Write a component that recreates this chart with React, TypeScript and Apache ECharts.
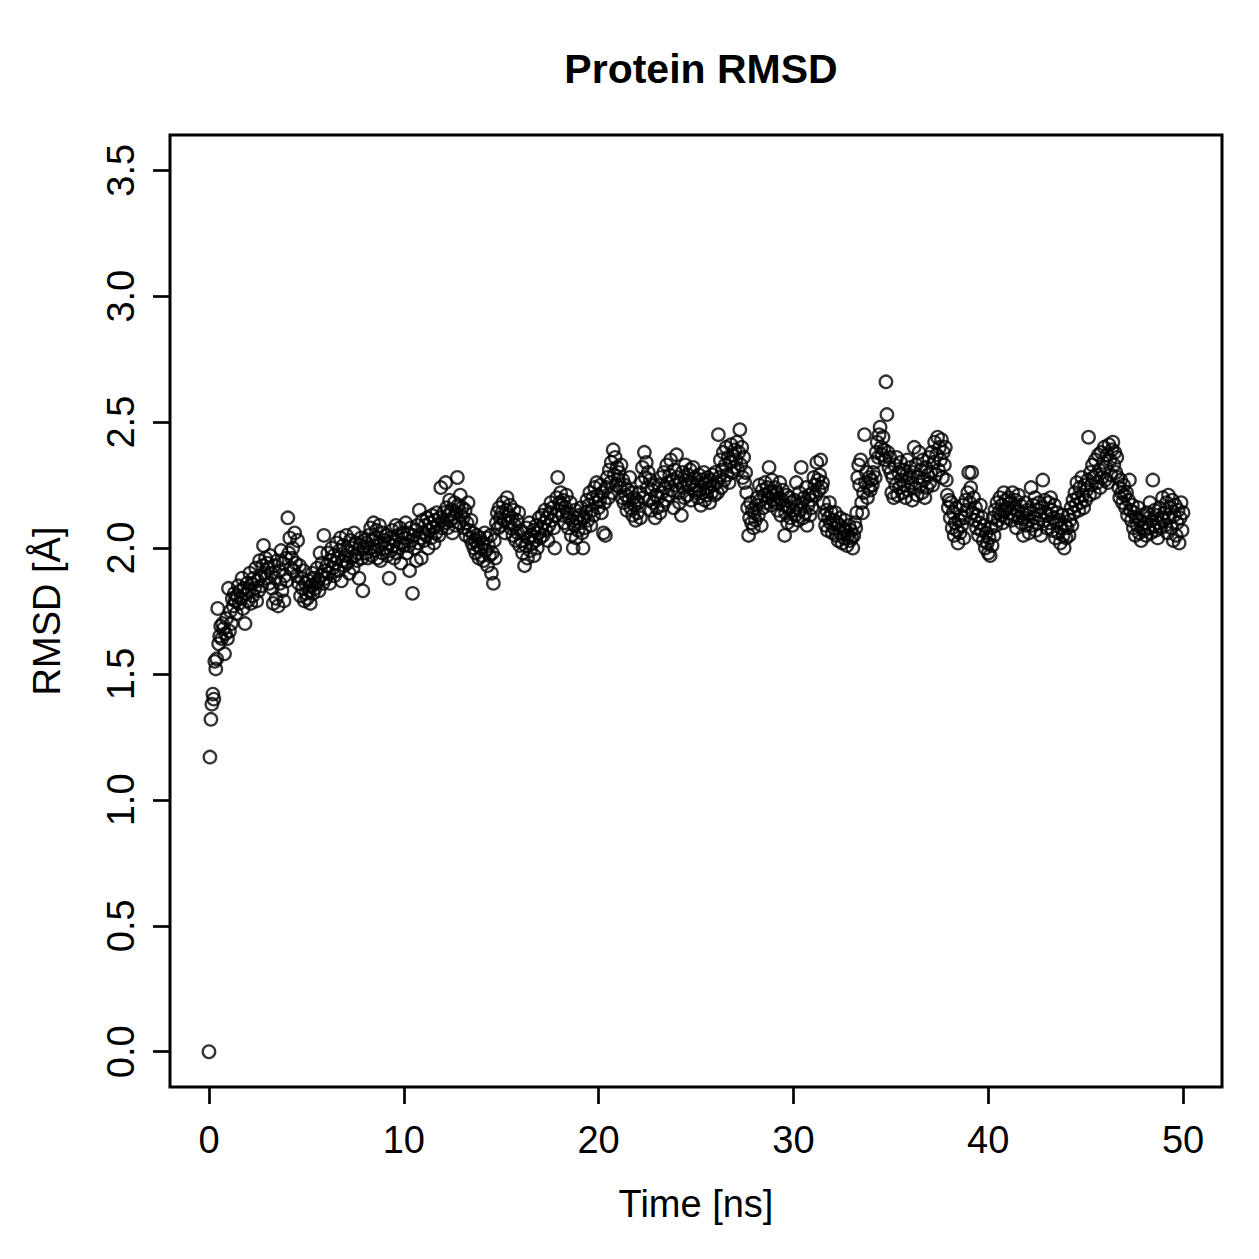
import React, { useEffect, useRef } from "react";
import * as echarts from "echarts";

// Trajectory sampled every 0.05 ns, 0–50 ns (1001 frames)
const frameStep = 0.05;

const rmsdStart = [0.0];
const rmsd0to10 = [
  1.17, 1.32, 1.38, 1.42, 1.40, 1.55, 1.52, 1.56, 1.76, 1.62, 1.65, 1.69, 1.64, 1.70, 1.68, 1.58, 1.66, 1.72, 1.64, 1.84,
  1.67, 1.75, 1.70, 1.80, 1.77, 1.82, 1.79, 1.74, 1.81, 1.85, 1.78, 1.83, 1.80, 1.88, 1.76, 1.84, 1.70, 1.82, 1.86, 1.79,
  1.83, 1.90, 1.78, 1.86, 1.81, 1.88, 1.84, 1.92, 1.79, 1.87, 1.83, 1.95, 1.89, 1.85, 1.93, 2.01, 1.90, 1.96, 1.88, 1.94,
  1.92, 1.86, 1.97, 1.90, 1.84, 1.78, 1.93, 1.88, 1.80, 1.95, 1.77, 1.91, 1.86, 1.99, 1.83, 1.94, 1.79, 1.89, 1.96, 1.87,
  2.12, 1.98, 2.04, 1.92, 1.96, 2.00, 1.91, 2.06, 1.94, 1.89, 2.03, 1.86, 1.93, 1.81, 1.88, 1.84, 1.91, 1.79, 1.86, 1.82,
  1.80, 1.87, 1.83, 1.78, 1.85, 1.90, 1.82, 1.88, 1.84, 1.86, 1.92, 1.87, 1.83, 1.98, 1.89, 1.94, 1.86, 2.05, 1.91, 1.88,
  1.93, 1.98, 1.90, 1.86, 1.95, 2.00, 1.92, 1.97, 1.89, 1.94, 2.02, 1.96, 1.91, 1.99, 2.04, 1.87, 1.95, 2.01, 1.93, 1.97,
  2.05, 1.94, 1.99, 1.90, 2.03, 1.96, 2.00, 1.92, 2.06, 1.97, 2.02, 1.95, 1.98, 1.88, 2.01, 2.04, 1.96, 1.83, 2.00, 2.03,
  1.98, 2.02, 1.96, 2.05, 2.00, 2.08, 1.97, 2.03, 2.10, 1.99, 2.04, 2.07, 1.96, 2.01, 2.09, 1.95, 2.02, 1.98, 2.06, 2.03,
  2.00, 2.05, 1.97, 2.02, 1.88, 2.04, 1.99, 2.07, 2.01, 1.96, 2.03, 2.09, 1.98, 2.05, 2.00, 2.08, 1.94, 2.02, 2.06, 2.01,
];
const rmsd10to20 = [
  2.04, 2.10, 1.98, 2.06, 2.01, 1.91, 2.08, 2.03, 1.82, 2.05, 2.00, 2.07, 1.95, 2.09, 2.02, 2.15, 2.04, 1.96, 2.11, 2.06,
  2.03, 2.09, 2.05, 2.12, 2.00, 2.07, 2.10, 2.04, 2.13, 2.08, 2.02, 2.11, 2.06, 2.14, 2.09, 2.05, 2.12, 2.24, 2.08, 2.11,
  2.14, 2.10, 2.26, 2.16, 2.08, 2.13, 2.19, 2.11, 2.15, 2.06, 2.12, 2.18, 2.09, 2.14, 2.28, 2.17, 2.10, 2.21, 2.13, 2.16,
  2.12, 2.08, 2.15, 2.05, 2.10, 2.18, 2.07, 2.04, 2.11, 2.02, 2.06, 2.00, 2.03, 1.98, 2.05, 2.01, 1.96, 2.04, 2.00, 1.97,
  2.02, 1.95, 2.06, 1.99, 2.04, 1.93, 2.01, 1.97, 2.05, 1.90, 1.98, 1.86, 2.03, 1.96, 2.10, 2.14, 2.08, 2.16, 2.12, 2.09,
  2.14, 2.18, 2.11, 2.06, 2.15, 2.20, 2.10, 2.13, 2.17, 2.08, 2.12, 2.05, 2.15, 2.09, 2.03, 2.11, 2.06, 2.14, 2.01, 2.07,
  2.03, 1.98, 2.06, 1.93, 2.01, 2.08, 1.96, 2.04, 2.10, 1.99, 2.05, 2.02, 2.07, 1.97, 2.03, 2.09, 2.00, 2.06, 2.12, 2.04,
  2.08, 2.13, 2.05, 2.10, 2.15, 2.07, 2.12, 2.03, 2.09, 2.14, 2.18, 2.11, 2.16, 2.08, 2.00, 2.13, 2.20, 2.28, 2.15, 2.18,
  2.22, 2.17, 2.13, 2.19, 2.10, 2.16, 2.21, 2.14, 2.08, 2.12, 2.18, 2.05, 2.11, 2.00, 2.09, 2.15, 2.04, 2.12, 2.07, 2.13,
  2.10, 2.16, 2.06, 2.00, 2.12, 2.08, 2.14, 2.19, 2.11, 2.17, 2.22, 2.09, 2.15, 2.20, 2.13, 2.24, 2.18, 2.26, 2.21, 2.16,
];
const rmsd20to30 = [
  2.19, 2.25, 2.14, 2.22, 2.06, 2.18, 2.05, 2.24, 2.28, 2.20, 2.31, 2.26, 2.34, 2.22, 2.39, 2.29, 2.36, 2.25, 2.32, 2.27,
  2.30, 2.24, 2.33, 2.20, 2.27, 2.18, 2.25, 2.21, 2.15, 2.23, 2.19, 2.28, 2.16, 2.22, 2.13, 2.20, 2.17, 2.11, 2.19, 2.14,
  2.18, 2.22, 2.12, 2.26, 2.32, 2.20, 2.38, 2.28, 2.34, 2.24, 2.30, 2.19, 2.27, 2.15, 2.23, 2.18, 2.25, 2.12, 2.21, 2.16,
  2.20, 2.25, 2.14, 2.28, 2.22, 2.17, 2.30, 2.24, 2.19, 2.33, 2.26, 2.21, 2.29, 2.35, 2.23, 2.27, 2.16, 2.31, 2.25, 2.37,
  2.28, 2.22, 2.18, 2.26, 2.13, 2.30, 2.24, 2.20, 2.33, 2.27, 2.21, 2.29, 2.25, 2.31, 2.19, 2.26, 2.32, 2.23, 2.28, 2.22,
  2.25, 2.20, 2.29, 2.23, 2.17, 2.27, 2.22, 2.30, 2.19, 2.26, 2.21, 2.28, 2.24, 2.18, 2.27, 2.22, 2.29, 2.25, 2.21, 2.30,
  2.26, 2.22, 2.45, 2.28, 2.35, 2.24, 2.31, 2.38, 2.27, 2.33, 2.40, 2.29, 2.36, 2.26, 2.34, 2.41, 2.30, 2.37, 2.32, 2.39,
  2.35, 2.42, 2.31, 2.38, 2.47, 2.33, 2.40, 2.28, 2.36, 2.26, 2.30, 2.22, 2.16, 2.05, 2.12, 2.18, 2.10, 2.15, 2.08, 2.14,
  2.11, 2.17, 2.20, 2.13, 2.25, 2.19, 2.09, 2.23, 2.16, 2.21, 2.26, 2.18, 2.24, 2.20, 2.32, 2.22, 2.17, 2.27, 2.21, 2.19,
  2.24, 2.18, 2.22, 2.15, 2.20, 2.26, 2.13, 2.19, 2.23, 2.17, 2.05, 2.14, 2.21, 2.10, 2.16, 2.20, 2.12, 2.18, 2.09, 2.15,
];
const rmsd30to40 = [
  2.19, 2.13, 2.26, 2.17, 2.11, 2.22, 2.15, 2.32, 2.18, 2.12, 2.20, 2.14, 2.24, 2.09, 2.17, 2.21, 2.13, 2.19, 2.16, 2.22,
  2.28, 2.25, 2.21, 2.34, 2.27, 2.23, 2.29, 2.35, 2.24, 2.26, 2.18, 2.13, 2.09, 2.15, 2.07, 2.12, 2.18, 2.10, 2.14, 2.06,
  2.11, 2.08, 2.14, 2.05, 2.10, 2.03, 2.09, 2.12, 2.06, 2.02, 2.08, 2.04, 2.11, 2.07, 2.01, 2.05, 2.09, 2.03, 2.07, 2.04,
  2.00, 2.05, 2.10, 2.08, 2.14, 2.28, 2.33, 2.25, 2.35, 2.18, 2.14, 2.22, 2.45, 2.26, 2.30, 2.20, 2.24, 2.28, 2.23, 2.27,
  2.25, 2.30, 2.34, 2.28, 2.38, 2.42, 2.36, 2.45, 2.48, 2.40, 2.37, 2.44, 2.39, 2.35, 2.66, 2.53, 2.38, 2.32, 2.36, 2.30,
  2.22, 2.28, 2.20, 2.33, 2.25, 2.36, 2.21, 2.30, 2.24, 2.34, 2.27, 2.22, 2.31, 2.25, 2.20, 2.29, 2.35, 2.23, 2.28, 2.32,
  2.26, 2.19, 2.30, 2.40, 2.24, 2.33, 2.21, 2.28, 2.38, 2.25, 2.31, 2.22, 2.35, 2.27, 2.20, 2.32, 2.24, 2.29, 2.36, 2.26,
  2.30, 2.38, 2.25, 2.34, 2.42, 2.29, 2.37, 2.44, 2.31, 2.40, 2.35, 2.43, 2.28, 2.38, 2.33, 2.40, 2.27, 2.21, 2.16, 2.19,
  2.12, 2.18, 2.08, 2.14, 2.05, 2.10, 2.16, 2.07, 2.02, 2.11, 2.06, 2.13, 2.09, 2.17, 2.04, 2.12, 2.19, 2.15, 2.22, 2.30,
  2.18, 2.24, 2.30, 2.14, 2.20, 2.11, 2.16, 2.08, 2.13, 2.05, 2.10, 2.17, 2.07, 2.12, 2.03, 2.09, 2.00, 2.06, 2.02, 1.98,
];
const rmsd40to50 = [
  2.04, 1.97, 2.08, 2.01, 2.12, 2.05, 2.15, 2.09, 2.18, 2.11, 2.14, 2.20, 2.13, 2.17, 2.10, 2.22, 2.15, 2.19, 2.12, 2.16,
  2.20, 2.14, 2.18, 2.11, 2.22, 2.16, 2.13, 2.19, 2.08, 2.15, 2.21, 2.12, 2.17, 2.10, 2.14, 2.05, 2.12, 2.18, 2.09, 2.15,
  2.11, 2.06, 2.14, 2.24, 2.09, 2.17, 2.12, 2.20, 2.07, 2.15, 2.10, 2.18, 2.13, 2.05, 2.16, 2.27, 2.11, 2.19, 2.14, 2.08,
  2.13, 2.18, 2.10, 2.20, 2.15, 2.07, 2.12, 2.17, 2.04, 2.10, 2.14, 2.06, 2.11, 2.02, 2.08, 2.13, 2.05, 2.00, 2.09, 2.04,
  2.08, 2.13, 2.05, 2.11, 2.16, 2.09, 2.19, 2.14, 2.22, 2.17, 2.26, 2.20, 2.15, 2.24, 2.18, 2.28, 2.21, 2.16, 2.25, 2.19,
  2.23, 2.27, 2.44, 2.21, 2.30, 2.25, 2.33, 2.28, 2.22, 2.35, 2.29, 2.26, 2.37, 2.31, 2.24, 2.38, 2.28, 2.34, 2.40, 2.27,
  2.32, 2.37, 2.26, 2.41, 2.35, 2.29, 2.39, 2.42, 2.33, 2.38, 2.30, 2.36, 2.28, 2.24, 2.20, 2.27, 2.22, 2.18, 2.25, 2.21,
  2.16, 2.22, 2.13, 2.19, 2.27, 2.15, 2.11, 2.17, 2.08, 2.14, 2.05, 2.12, 2.09, 2.16, 2.06, 2.11, 2.03, 2.08, 2.13, 2.07,
  2.10, 2.05, 2.14, 2.08, 2.12, 2.18, 2.06, 2.11, 2.27, 2.09, 2.15, 2.07, 2.13, 2.04, 2.10, 2.16, 2.08, 2.12, 2.20, 2.11,
  2.14, 2.09, 2.18, 2.06, 2.21, 2.12, 2.16, 2.08, 2.19, 2.03, 2.13, 2.17, 2.05, 2.10, 2.15, 2.02, 2.12, 2.18, 2.07, 2.14,
];

const xTicks = [0, 10, 20, 30, 40, 50];
const yTicks = [0, 0.5, 1, 1.5, 2, 2.5, 3, 3.5];

const FONT = "'Liberation Sans', Arial, Helvetica, sans-serif";

export default function App() {
  const ref = useRef<HTMLDivElement>(null);

  useEffect(() => {
    if (!ref.current) return;
    const chart = echarts.init(ref.current, undefined, { renderer: "svg" });

    const rmsd = [...rmsdStart, ...rmsd0to10, ...rmsd10to20, ...rmsd20to30, ...rmsd30to40, ...rmsd40to50];
    const points = rmsd.map((v, i) => [Math.round(i * frameStep * 100) / 100, v]);

    chart.setOption({
      animation: false,
      backgroundColor: "#ffffff",
      title: {
        text: "Protein RMSD",
        left: 696,
        top: 43,
        textAlign: "center",
        textStyle: { fontFamily: FONT, fontSize: 41, fontWeight: "bold", color: "#000" },
      },
      grid: {
        left: 170,
        top: 135,
        width: 1052,
        height: 952,
        show: true,
        borderColor: "#000",
        borderWidth: 3,
        backgroundColor: "transparent",
      },
      xAxis: {
        type: "value",
        min: -2,
        max: 52,
        name: "Time [ns]",
        nameLocation: "middle",
        nameGap: 98,
        nameTextStyle: { fontFamily: FONT, fontSize: 38, color: "#000" },
        splitLine: { show: false },
        axisLine: { show: false, onZero: false },
        axisTick: {
          show: true,
          inside: false,
          length: 17,
          customValues: xTicks,
          lineStyle: { color: "#000", width: 2.7 },
        },
        axisLabel: {
          customValues: xTicks,
          margin: 34,
          fontFamily: FONT,
          fontSize: 38,
          color: "#000",
          formatter: (v: number) => String(v),
        },
      },
      yAxis: {
        type: "value",
        min: -0.14,
        max: 3.64,
        name: "RMSD [Å]",
        nameLocation: "middle",
        nameGap: 104,
        nameRotate: 90,
        nameTextStyle: { fontFamily: FONT, fontSize: 38, color: "#000" },
        splitLine: { show: false },
        axisLine: { show: false, onZero: false },
        axisTick: {
          show: true,
          inside: false,
          length: 17,
          customValues: yTicks,
          lineStyle: { color: "#000", width: 2.7 },
        },
        axisLabel: {
          customValues: yTicks,
          rotate: 90,
          margin: 30,
          fontFamily: FONT,
          fontSize: 38,
          color: "#000",
          formatter: (v: number) => v.toFixed(1),
        },
      },
      series: [
        {
          type: "scatter",
          data: points,
          symbol: "circle",
          symbolSize: 12.5,
          itemStyle: { color: "rgba(0,0,0,0)", borderColor: "#000", borderWidth: 2.3 },
          emphasis: { disabled: true },
        },
      ],
    });

    return () => chart.dispose();
  }, []);

  return (
    <div
      ref={ref}
      style={{ position: "fixed", left: 0, top: 0, width: 1259, height: 1259, background: "#fff" }}
    />
  );
}
